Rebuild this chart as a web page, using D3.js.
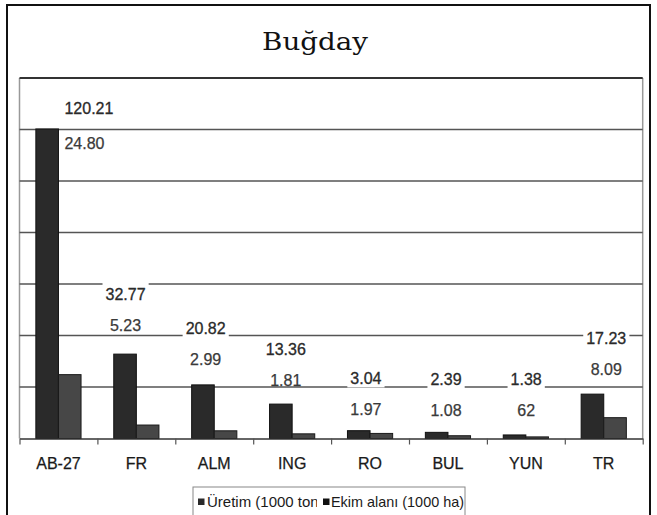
<!DOCTYPE html>
<html>
<head>
<meta charset="utf-8">
<script src="https://cdn.jsdelivr.net/npm/d3@7"></script>
<style>
  html, body { margin: 0; padding: 0; background: #fff; }
  svg { display: block; }
</style>
</head>
<body>
<script>
// ---- data ----
const categories = ["AB-27", "FR", "ALM", "ING", "RO", "BUL", "YUN", "TR"];
const uretim = [120.21, 32.77, 20.82, 13.36, 3.04, 2.39, 1.38, 17.23];
const ekim = [24.80, 5.23, 2.99, 1.81, 1.97, 1.08, 0.623, 8.09];
const uretimLabels = ["120.21", "32.77", "20.82", "13.36", "3.04", "2.39", "1.38", "17.23"];
const ekimLabels = ["24.80", "5.23", "2.99", "1.81", "1.97", "1.08", "62", "8.09"];
const gridTicks = [20, 40, 60, 80, 100, 120];
const seriesNames = ["Üretim (1000 ton)", "Ekim alanı (1000 ha)"];
const title = "Buğday";

// ---- layout ----
const W = 657, H = 515;
const P = { left: 19.5, right: 642.7, top: 78, bottom: 438.5 };
const colU = "#2a2a2a", colE = "#474747";
const sans = "'Liberation Sans', Arial, sans-serif";

const svg = d3.select("body").append("svg").attr("width", W).attr("height", H);

// outer frame
svg.append("rect").attr("x", 7).attr("y", 5).attr("width", 643).attr("height", 530)
  .attr("fill", "#fff").attr("stroke", "#111").attr("stroke-width", 2);

// title
svg.append("text").attr("x", 315).attr("y", 50).attr("text-anchor", "middle")
  .attr("font-family", "'DejaVu Serif', serif").attr("font-size", 24)
  .attr("textLength", 106).attr("lengthAdjust", "spacingAndGlyphs")
  .attr("fill", "#111").text(title);

// scales
const y = d3.scaleLinear().domain([0, 140]).range([P.bottom, P.top]);
const x0 = d3.scaleBand().domain(categories).range([P.left, P.right])
  .paddingInner(0.42).paddingOuter(0.21);
const x1 = d3.scaleBand().domain(["u", "e"]).range([0, x0.bandwidth()]);
const xb = d3.scaleLinear().domain([0, categories.length]).range([P.left, P.right]);

// plot side borders
svg.append("line").attr("x1", P.left).attr("x2", P.left).attr("y1", P.top).attr("y2", P.bottom)
  .attr("stroke", "#999").attr("stroke-width", 1.5);
svg.append("line").attr("x1", P.right).attr("x2", P.right).attr("y1", P.top).attr("y2", P.bottom)
  .attr("stroke", "#999").attr("stroke-width", 1.5);

// gridlines
svg.append("g").selectAll("line").data(gridTicks).join("line")
  .attr("x1", P.left).attr("x2", P.right)
  .attr("y1", d => y(d)).attr("y2", d => y(d))
  .attr("stroke", "#555").attr("stroke-width", 1.7);

// top border of plot
svg.append("line").attr("x1", P.left).attr("x2", P.right).attr("y1", P.top).attr("y2", P.top)
  .attr("stroke", "#333").attr("stroke-width", 2);

// bars
const rows = categories.map((c, i) => ({ c, u: uretim[i], e: ekim[i], ul: uretimLabels[i], el: ekimLabels[i] }));
const groups = svg.append("g").selectAll("g").data(rows).join("g")
  .attr("transform", d => `translate(${x0(d.c)},0)`);
groups.append("rect").attr("x", x1("u")).attr("width", x1.bandwidth())
  .attr("y", d => y(d.u)).attr("height", d => y(0) - y(d.u))
  .attr("fill", colU).attr("stroke", "#111").attr("stroke-width", 1);
groups.append("rect").attr("x", x1("e")).attr("width", x1.bandwidth())
  .attr("y", d => y(d.e)).attr("height", d => y(0) - y(d.e))
  .attr("fill", colE).attr("stroke", "#1a1a1a").attr("stroke-width", 1);

// x axis
const xAxis = d3.axisBottom(xb).tickValues(d3.range(categories.length + 1))
  .tickFormat("").tickSize(6).tickSizeOuter(0);
const ax = svg.append("g").attr("transform", `translate(0,${P.bottom})`).call(xAxis);
ax.select(".domain").attr("stroke", "#333").attr("stroke-width", 1.5);
ax.selectAll(".tick line").attr("stroke", "#555").attr("stroke-width", 1.2);

svg.append("g").selectAll("text").data(categories).join("text")
  .attr("x", d => x0(d) + x0.bandwidth() / 2)
  .attr("y", 469)
  .attr("text-anchor", "middle")
  .attr("font-family", sans).attr("font-size", 16).attr("fill", "#1a1a1a")
  .attr("stroke", "#1a1a1a").attr("stroke-width", 0.25)
  .text(d => d);

// data labels
const unitPx = (y(0) - y(20)) / 20;
const minLab = P.top + 30, maxLab = y(20) - 8;
function labY(v) { return y(20) - unitPx * 1.094 * v; }
const labG = svg.append("g");
rows.forEach(d => {
  const cx = x0(d.c) + x0.bandwidth() / 2;
  const raw = labY(d.u);
  const clamped = raw < minLab;
  const ly = Math.max(minLab, Math.min(maxLab, raw));
  const lx = clamped ? cx + 6 : cx * 1.0285 - 14.7;
  const anchor = clamped ? "start" : "middle";
  const t = labG.append("text").attr("x", lx).attr("y", ly).attr("dy", "0.36em")
    .attr("text-anchor", anchor).attr("font-family", sans).attr("font-size", 16)
    .attr("fill", "#2a2a2a").attr("stroke", "#2a2a2a").attr("stroke-width", 0.3).text(d.ul);
  const bb = t.node().getBBox();
  labG.insert("rect", () => t.node()).attr("x", bb.x - 3).attr("width", bb.width + 6)
    .attr("y", ly - 12).attr("height", 21).attr("fill", "#fff");
  labG.append("text").attr("x", lx).attr("y", ly + (clamped ? 35 : 31)).attr("dy", "0.36em")
    .attr("text-anchor", anchor).attr("font-family", sans).attr("font-size", 16)
    .attr("fill", "#3a3a3a").attr("stroke", "#3a3a3a").attr("stroke-width", 0.25).text(d.el);
});

// legend
const lg = svg.append("g");
lg.append("clipPath").attr("id", "legclip").append("rect")
  .attr("x", 193).attr("y", 487).attr("width", 272).attr("height", 40);
lg.append("rect").attr("x", 193).attr("y", 487).attr("width", 272).attr("height", 40)
  .attr("fill", "#fff").attr("stroke", "#888").attr("stroke-width", 1);
const li = lg.append("g").attr("clip-path", "url(#legclip)");
li.append("rect").attr("x", 198).attr("y", 498.5).attr("width", 6.5).attr("height", 6.5).attr("fill", colU);
li.append("text").attr("x", 207).attr("y", 507).attr("font-family", sans).attr("font-size", 15)
  .attr("fill", "#1a1a1a").text(seriesNames[0]);
li.append("rect").attr("x", 317).attr("y", 490).attr("width", 14).attr("height", 22).attr("fill", "#fff");
li.append("rect").attr("x", 323).attr("y", 498.5).attr("width", 6.5).attr("height", 6.5).attr("fill", "#111");
li.append("text").attr("x", 331).attr("y", 507).attr("font-family", sans).attr("font-size", 15)
  .attr("textLength", 133).attr("lengthAdjust", "spacingAndGlyphs")
  .attr("fill", "#1a1a1a").text(seriesNames[1]);
</script>
</body>
</html>
